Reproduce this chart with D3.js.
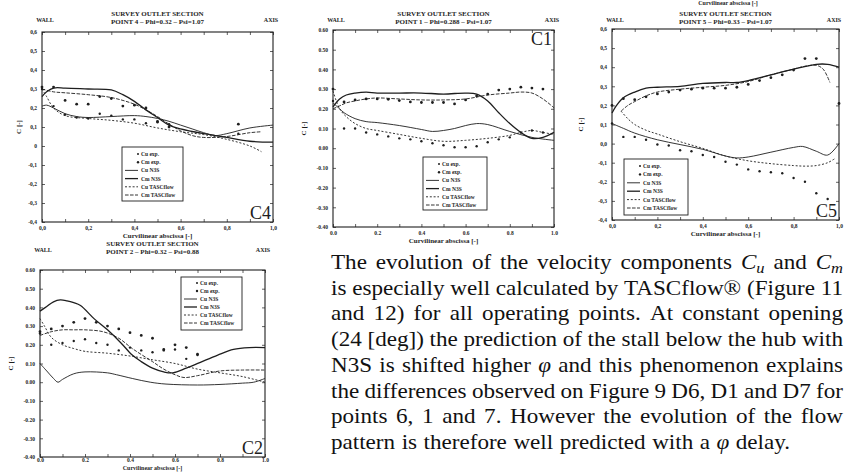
<!DOCTYPE html>
<html><head><meta charset="utf-8">
<script src="https://cdn.jsdelivr.net/npm/d3@7"></script>
<style>body{margin:0;background:#fff}svg{display:block}</style>
</head><body><svg id="c" width="846" height="472"></svg>
<script>
// ---------- shared axis data ----------
const tickSteps = [0,0.1,0.2,0.3,0.4,0.5,0.6,0.7,0.8,0.9,1.0];
const yTickVals = [0.6,0.5,0.4,0.3,0.2,0.1,0,-0.1,-0.2,-0.3,-0.4];
const xLabelsComma = ["0,0","0,2","0,4","0,6","0,8","1,0"];
const xLabelsDot = ["0.0","0.2","0.4","0.6","0.8","1.0"];
const yLabelsC4 = ["0,6","0,5","0,4","0,3","0,2","0,1","0","-0,1","-0,2","-0,3","-0,4"];
const yLabelsC5 = ["0,6","0,5","0,4","0,3","0,2","0,1","0,0","-0,1","-0,2","-0,3","-0,4"];
const yLabelsDot = ["0.60","0.50","0.40","0.30","0.20","0.10","0.00","-0.10","-0.20","-0.30","-0.40"];
const legendLabels = ["Cu exp.","Cm exp.","Cu N3S","Cm N3S","Cu TASCflow","Cm TASCflow"];

// ---------- C4 (point 4) ----------
const c4ExpX   = [0.0,0.05,0.1,0.15,0.2,0.25,0.3,0.35,0.4,0.45,0.5,0.55,0.85];
const c4CuExp  = [0.30,0.21,0.165,0.15,0.145,0.17,0.16,0.14,0.14,0.12,0.125,0.115,0.065];
const c4CmExp  = [0.31,0.31,0.24,0.22,0.22,0.26,0.25,0.21,0.215,0.20,0.13,0.10,0.115];
const c4CuN3SX = [0,0.02,0.05,0.1,0.15,0.2,0.3,0.4,0.45,0.5,0.55,0.6,0.65,0.7,0.75,0.8,0.9,1.0];
const c4CuN3S  = [0.21,0.215,0.2,0.17,0.155,0.15,0.155,0.16,0.155,0.145,0.13,0.11,0.09,0.07,0.055,0.065,0.095,0.11];
const c4CmN3SX = [0,0.02,0.05,0.1,0.2,0.3,0.35,0.4,0.45,0.5,0.55,0.6,0.7,0.75,0.8,0.9,1.0];
const c4CmN3S  = [0.26,0.285,0.305,0.305,0.30,0.295,0.27,0.235,0.19,0.15,0.11,0.09,0.065,0.055,0.045,0.025,0.02];
const c4CuTascX= [0,0.02,0.05,0.1,0.2,0.3,0.4,0.5,0.6,0.7,0.8,0.9,0.95];
const c4CuTasc = [0.30,0.26,0.2,0.16,0.145,0.135,0.12,0.095,0.075,0.06,0.035,0.0,-0.03];
const c4CmTascX= [0,0.05,0.1,0.2,0.3,0.4,0.45,0.5,0.55,0.6,0.65,0.7,0.8,0.9,0.95];
const c4CmTasc = [0.30,0.285,0.28,0.27,0.255,0.22,0.19,0.155,0.115,0.08,0.055,0.045,0.05,0.07,0.075];

// ---------- C1 (point 1) ----------
const c1ExpX   = [0,0.05,0.1,0.15,0.2,0.25,0.3,0.35,0.4,0.45,0.5,0.55,0.6,0.65,0.7,0.75,0.8,0.85,0.9,0.95];
const c1CuExp  = [0.24,0.10,0.10,0.08,0.07,0.06,0.05,0.045,0.035,0.025,0.015,0.005,0.005,0.01,0.03,0.045,0.055,0.08,0.09,0.08];
const c1CmExp  = [0.30,0.235,0.245,0.25,0.25,0.248,0.242,0.235,0.232,0.232,0.232,0.225,0.245,0.265,0.275,0.295,0.30,0.31,0.305,0.30];
const c1CuN3SX = [0,0.03,0.05,0.1,0.15,0.2,0.3,0.4,0.45,0.5,0.55,0.6,0.65,0.7,0.8,0.9,1.0];
const c1CuN3S  = [0.23,0.2,0.18,0.15,0.135,0.13,0.115,0.095,0.085,0.09,0.1,0.115,0.125,0.12,0.085,0.055,0.04];
const c1CmN3SX = [0,0.03,0.06,0.1,0.15,0.2,0.3,0.4,0.5,0.6,0.65,0.7,0.75,0.8,0.85,0.9,0.95,1.0];
const c1CmN3S  = [0.21,0.25,0.27,0.28,0.285,0.28,0.28,0.28,0.275,0.28,0.275,0.24,0.18,0.125,0.08,0.05,0.055,0.08];
const c1CuTascX= [0,0.03,0.06,0.1,0.15,0.2,0.3,0.4,0.5,0.6,0.7,0.8,0.85,0.9,0.95,1.0];
const c1CuTasc = [0.29,0.2,0.16,0.125,0.1,0.09,0.07,0.05,0.035,0.04,0.05,0.065,0.08,0.09,0.08,0.07];
const c1CmTascX= [0,0.03,0.06,0.1,0.15,0.2,0.3,0.4,0.5,0.6,0.7,0.8,0.85,0.9,0.95,1.0];
const c1CmTasc = [0.20,0.215,0.23,0.24,0.25,0.255,0.25,0.245,0.245,0.25,0.27,0.28,0.285,0.28,0.25,0.205];

// ---------- C5 (point 5) ----------
const c5CuExpX = [0,0.05,0.1,0.15,0.2,0.25,0.3,0.35,0.4,0.45,0.5,0.55,0.6,0.65,0.7,0.75,0.8,0.85,0.9,0.95];
const c5CuExp  = [0.105,0.035,0.035,0.02,-0.005,-0.01,-0.035,-0.04,-0.06,-0.07,-0.095,-0.11,-0.135,-0.145,-0.15,-0.155,-0.18,-0.2,-0.26,-0.29];
const c5CmExpX = [0,0.05,0.1,0.15,0.2,0.25,0.3,0.35,0.4,0.45,0.5,0.55,0.6,0.65,0.7,0.75,0.8,0.85,0.9,1.0];
const c5CmExp  = [0.2,0.235,0.23,0.245,0.26,0.27,0.28,0.285,0.29,0.29,0.29,0.295,0.31,0.33,0.345,0.36,0.385,0.445,0.445,0.21];
const c5CuN3SX = [0,0.05,0.1,0.2,0.3,0.4,0.5,0.55,0.6,0.7,0.8,0.84,0.9,0.95,1.0];
const c5CuN3S  = [0.105,0.08,0.055,0.02,-0.005,-0.03,-0.065,-0.075,-0.07,-0.045,-0.02,-0.015,-0.04,-0.06,0.0];
const c5CmN3SX = [0,0.02,0.05,0.1,0.15,0.2,0.3,0.4,0.5,0.55,0.6,0.7,0.8,0.9,0.95,1.0];
const c5CmN3S  = [0.16,0.2,0.24,0.27,0.29,0.295,0.3,0.315,0.32,0.32,0.33,0.36,0.39,0.415,0.415,0.40];
const c5CuTascX= [0.04,0.07,0.1,0.15,0.2,0.3,0.4,0.5,0.6,0.7,0.8,0.85,0.9,0.95,0.98];
const c5CuTasc = [0.17,0.13,0.1,0.07,0.05,0.01,-0.025,-0.065,-0.09,-0.105,-0.115,-0.118,-0.115,-0.1,-0.08];
const c5CmTascX= [0.04,0.07,0.1,0.15,0.2,0.3,0.4,0.5,0.6,0.7,0.8,0.85,0.9,0.93,0.96];
const c5CmTasc = [0.17,0.2,0.22,0.25,0.27,0.285,0.295,0.305,0.325,0.36,0.39,0.405,0.41,0.39,0.32];

// ---------- C2 (point 2) ----------
const c2ExpX   = [0,0.05,0.1,0.15,0.2,0.25,0.3,0.35,0.4,0.45,0.5,0.55,0.6,0.65,0.7];
const c2CuExp  = [0.26,0.20,0.21,0.22,0.23,0.21,0.20,0.17,0.185,0.17,0.16,0.17,0.175,0.125,0.145];
const c2CmExp  = [0.27,0.285,0.30,0.32,0.34,0.32,0.30,0.285,0.265,0.25,0.235,0.175,0.20,0.185,0.15];
const c2CuN3SX = [0,0.03,0.06,0.08,0.1,0.15,0.2,0.3,0.34,0.41,0.49,0.56,0.7,0.8,0.9,0.95,1.0];
const c2CuN3S  = [0.10,0.06,0.02,0.0,0.015,0.045,0.055,0.05,0.04,0.02,0.0,-0.01,-0.015,-0.012,-0.005,0.0,0.02];
const c2CmN3SX = [0,0.03,0.06,0.09,0.12,0.15,0.18,0.24,0.3,0.36,0.41,0.45,0.5,0.55,0.59,0.65,0.71,0.79,0.86,0.93,1.0];
const c2CmN3S  = [0.38,0.405,0.43,0.44,0.435,0.425,0.41,0.34,0.28,0.21,0.145,0.11,0.075,0.055,0.05,0.075,0.105,0.145,0.175,0.185,0.185];
const c2CuTascX= [0,0.02,0.05,0.1,0.15,0.2,0.3,0.4,0.5,0.6,0.7,0.8,0.9,1.0];
const c2CuTasc = [0.34,0.3,0.24,0.2,0.18,0.165,0.155,0.14,0.12,0.1,0.07,0.05,0.03,0.0];
const c2CmTascX= [0,0.05,0.1,0.15,0.2,0.28,0.35,0.41,0.5,0.55,0.6,0.64,0.7,0.8,0.9,1.0];
const c2CmTasc = [0.25,0.27,0.28,0.28,0.28,0.27,0.235,0.18,0.11,0.07,0.04,0.025,0.035,0.06,0.065,0.065];

// ---------- paragraph ----------
const paraLines = [
  "The evolution of the velocity components C_u and C_m",
  "is especially well calculated by TASCflow® (Figure 11",
  "and 12) for all operating points. At constant opening",
  "(24 [deg]) the prediction of the stall below the hub with",
  "N3S is shifted higher φ and this phenomenon explains",
  "the differences observed on Figure 9 D6, D1 and D7 for",
  "points 6, 1 and 7. However the evolution of the flow",
  "pattern is therefore well predicted with a φ delay."
];

const zip = (xs, ys) => xs.map((x, i) => [x, ys[i]]);

const panels = [
  { tag:"C4", tagPos:"br", x0:42, x1:273, y0:32, y1:222, titleY:15.5,
    point:"POINT 4 – Phi=0.32 – Psi=1.07", yLabels:yLabelsC4, xLabels:xLabelsComma,
    yLabX:21, legend:[122,147,61,54,7,8.2],
    cuExp:zip(c4ExpX,c4CuExp), cmExp:zip(c4ExpX,c4CmExp),
    cuN3S:zip(c4CuN3SX,c4CuN3S), cmN3S:zip(c4CmN3SX,c4CmN3S),
    cuTasc:zip(c4CuTascX,c4CuTasc), cmTasc:zip(c4CmTascX,c4CmTasc) },
  { tag:"C1", tagPos:"tr", x0:333, x1:554, y0:30, y1:227, titleY:15.5,
    point:"POINT 1 – Phi=0.288 – Psi=1.07", yLabels:yLabelsDot, xLabels:xLabelsDot,
    yLabX:306, legend:[423,157,64,53,7,8.2],
    cuExp:zip(c1ExpX,c1CuExp), cmExp:zip(c1ExpX,c1CmExp),
    cuN3S:zip(c1CuN3SX,c1CuN3S), cmN3S:zip(c1CmN3SX,c1CmN3S),
    cuTasc:zip(c1CuTascX,c1CuTasc), cmTasc:zip(c1CmTascX,c1CmTasc) },
  { tag:"C5", tagPos:"br", x0:612, x1:839, y0:29, y1:220, titleY:15.5, axisX:834,
    point:"POINT 5 – Phi=0.33 – Psi=1.07", yLabels:yLabelsC5, xLabels:xLabelsComma,
    yLabX:583, legend:[624,159,64,56,7,8.4],
    cuExp:zip(c5CuExpX,c5CuExp), cmExp:zip(c5CmExpX,c5CmExp),
    cuN3S:zip(c5CuN3SX,c5CuN3S), cmN3S:zip(c5CmN3SX,c5CmN3S),
    cuTasc:zip(c5CuTascX,c5CuTasc), cmTasc:zip(c5CmTascX,c5CmTasc) },
  { tag:"C2", tagPos:"br", x0:40, x1:265, y0:270, y1:457, titleY:245.5, xTitleDy:13.3, xPad:1.5,
    point:"POINT 2 – Phi=0.32 – Psi=0.88", yLabels:yLabelsDot, xLabels:xLabelsDot,
    yLabX:13, legend:[181,277,61,53,6,8],
    cuExp:zip(c2ExpX,c2CuExp), cmExp:zip(c2ExpX,c2CmExp),
    cuN3S:zip(c2CuN3SX,c2CuN3S), cmN3S:zip(c2CmN3SX,c2CmN3S),
    cuTasc:zip(c2CuTascX,c2CuTasc), cmTasc:zip(c2CmTascX,c2CmTasc) }
];

const svg = d3.select("#c");
svg.append("rect").attr("width",846).attr("height",472).attr("fill","#fff");
const INK = "#1e1e1e";
const serif = "'Liberation Serif', 'Times New Roman', serif";

const styles = {
  cuN3S:{w:0.9, dash:null}, cmN3S:{w:1.3, dash:null},
  cuTasc:{w:0.9, dash:"2,1.8"}, cmTasc:{w:0.9, dash:"3.6,1.4"}
};

function drawPanel(p) {
  const g = svg.append("g").attr("font-family", serif).attr("fill", INK);
  const x = d3.scaleLinear().domain([0,1]).range([p.x0,p.x1]);
  const y = d3.scaleLinear().domain([-0.4,0.6]).range([p.y1,p.y0]);
  const cx = (p.x0+p.x1)/2;

  g.append("text").attr("x",cx).attr("y",p.titleY).attr("text-anchor","middle")
    .attr("font-size",7).attr("font-weight","bold").text("SURVEY OUTLET SECTION");
  g.append("text").attr("x",cx).attr("y",p.titleY+8).attr("text-anchor","middle")
    .attr("font-size",7).attr("font-weight","bold").text(p.point);
  g.append("text").attr("x",p.x0+3).attr("y",p.titleY+6).attr("text-anchor","middle")
    .attr("font-size",6).attr("font-weight","bold").text("WALL");
  g.append("text").attr("x",p.axisX || (p.x1-2)).attr("y",p.titleY+6).attr("text-anchor","middle")
    .attr("font-size",6).attr("font-weight","bold").text("AXIS");

  const mk = (axis) => axis.tickSizeInner(-3).tickSizeOuter(0);
  const fmtX = (d) => { const i = Math.round(d*10); return i%2===0 ? p.xLabels[i/2] : ""; };
  const fmtY = (d) => { const i = yTickVals.findIndex(v => Math.abs(v-d)<1e-9); return p.yLabels[i]; };
  const styleAxis = (sel) => {
    sel.select(".domain").remove();
    sel.selectAll(".tick line").attr("stroke",INK).attr("stroke-width",0.7);
    sel.selectAll(".tick text").attr("font-family",serif).attr("font-size",5.5)
      .attr("font-weight","bold").attr("fill",INK);
  };
  g.append("g").attr("transform",`translate(0,${p.y1})`)
    .call(mk(d3.axisBottom(x).tickValues(tickSteps).tickFormat(fmtX)).tickPadding(p.xPad||4)).call(styleAxis);
  g.append("g").attr("transform",`translate(0,${p.y0})`)
    .call(mk(d3.axisTop(x).tickValues(tickSteps).tickFormat(""))).call(styleAxis);
  g.append("g").attr("transform",`translate(${p.x0},0)`)
    .call(mk(d3.axisLeft(y).tickValues(yTickVals).tickFormat(fmtY)).tickPadding(5)).call(styleAxis);
  g.append("g").attr("transform",`translate(${p.x1},0)`)
    .call(mk(d3.axisRight(y).tickValues(yTickVals).tickFormat(""))).call(styleAxis);

  g.append("rect").attr("x",p.x0).attr("y",p.y0).attr("width",p.x1-p.x0).attr("height",p.y1-p.y0)
    .attr("fill","none").attr("stroke",INK).attr("stroke-width",1.1);

  g.append("text").attr("x",cx).attr("y",p.y1+(p.xTitleDy||16)).attr("text-anchor","middle")
    .attr("font-size",p.xTitleDy?6:7).attr("font-weight","bold").text("Curvilinear abscissa [-]");
  g.append("text").attr("transform",`translate(${p.yLabX},${(p.y0+p.y1)/2}) rotate(-90)`)
    .attr("text-anchor","middle").attr("font-size",7).attr("font-weight","bold").text("C [-]");

  const line = d3.line().x(d=>x(d[0])).y(d=>y(d[1])).curve(d3.curveCatmullRom.alpha(0.5));
  const plot = g.append("g");
  ["cuN3S","cmN3S","cuTasc","cmTasc"].forEach(k => {
    plot.append("path").datum(p[k]).attr("d",line).attr("fill","none")
      .attr("stroke",INK).attr("stroke-width",styles[k].w)
      .attr("stroke-dasharray",styles[k].dash);
  });
  plot.selectAll(".cu").data(p.cuExp).join("circle").attr("class","cu")
    .attr("cx",d=>x(d[0])).attr("cy",d=>y(d[1])).attr("r",1.2).attr("fill",INK);
  plot.selectAll(".cm").data(p.cmExp).join("circle").attr("class","cm")
    .attr("cx",d=>x(d[0])).attr("cy",d=>y(d[1])).attr("r",1.4).attr("fill",INK);

  const [bx,by,bw,bh,off,step] = p.legend;
  const lg = g.append("g");
  lg.append("rect").attr("x",bx).attr("y",by).attr("width",bw).attr("height",bh)
    .attr("fill","#fff").attr("stroke",INK).attr("stroke-width",0.9);
  const keys = [null,null,"cuN3S","cmN3S","cuTasc","cmTasc"];
  legendLabels.forEach((lab,i) => {
    const yy = by + off + i*step;
    if (i < 2) {
      lg.append("circle").attr("cx",bx+16).attr("cy",yy).attr("r",i===0?1.0:1.2).attr("fill",INK);
    } else {
      const s = styles[keys[i]];
      lg.append("line").attr("x1",bx+3).attr("x2",bx+16).attr("y1",yy).attr("y2",yy)
        .attr("stroke",INK).attr("stroke-width",s.w).attr("stroke-dasharray",s.dash);
    }
    lg.append("text").attr("x",bx+19).attr("y",yy+2).attr("font-size",5.5)
      .attr("font-weight","bold").text(lab);
  });

  const tagY = p.tagPos === "tr" ? p.y0+15 : p.y1-3;
  g.append("text").attr("x",p.x1-2).attr("y",tagY).attr("text-anchor","end")
    .attr("font-size",18).text(p.tag);
}
panels.forEach(drawPanel);

// remnant of the row above
svg.append("text").attr("x",728).attr("y",4.5).attr("text-anchor","middle")
  .attr("font-family",serif).attr("font-size",6).attr("font-weight","bold").attr("fill",INK)
  .text("Curvilinear abscissa [-]");

// ---------- paragraph (justified, slightly widened serif) ----------
const paraX = 331, paraW = 512, paraBase = 269, paraStep = 25.7, paraStretch = 1.1;
const para = svg.append("g").attr("font-family",serif).attr("font-size",21).attr("fill","#111");
function renderWord(t, w) {
  const m = w.match(/^C_([um])$/);
  if (m) {
    t.append("tspan").attr("font-style","italic").text("C");
    t.append("tspan").attr("font-style","italic").attr("font-size",15).attr("dy",4).text(m[1]);
  } else if (w === "φ") {
    t.append("tspan").attr("font-style","italic").text("φ");
  } else {
    t.text(w);
  }
}
paraLines.forEach((ln, li) => {
  const words = ln.split(/\s+/);
  const yb = paraBase + li*paraStep;
  const nodes = words.map(w => { const t = para.append("text").attr("x",0).attr("y",0); renderWord(t,w); return t; });
  const widths = nodes.map(n => n.node().getComputedTextLength()*paraStretch);
  const last = li === paraLines.length-1;
  const gap = last ? 6.5 : (paraW - d3.sum(widths))/(words.length-1);
  let xx = paraX;
  nodes.forEach((n,i) => {
    n.attr("transform",`translate(${xx},${yb}) scale(${paraStretch},1)`);
    xx += widths[i] + gap;
  });
});
</script></body></html>
